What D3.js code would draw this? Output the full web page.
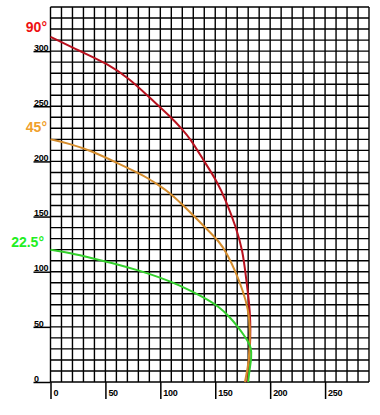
<!DOCTYPE html>
<html>
<head>
<meta charset="utf-8">
<script src="https://cdn.jsdelivr.net/npm/d3@7"></script>
<style>
  body { margin: 0; background: #fff; }
  text { font-family: "Liberation Sans", Arial, sans-serif; }
</style>
</head>
<body>
<div id="chart"></div>
<script>
'use strict';

// trajectories, [x, y]
var red90 = [[0, 313], [29, 299], [51, 289], [72, 275], [90, 258], [111, 239], [120, 229],
  [127, 221], [140, 200], [151, 183], [160, 164], [169, 140], [175, 119], [178, 95],
  [181, 71], [182, 55], [182, 40], [181, 19], [179, 0]];
var orange45 = [[0, 220], [17.5, 216], [36, 210], [60, 199], [81, 189], [90, 184], [99, 178],
  [108, 172], [120, 161], [130, 151], [142, 139], [154, 127], [161, 116], [169, 99],
  [175, 83], [180, 67], [182, 46], [181, 19], [177, 0]];
var green225 = [[0, 120], [17.5, 117], [39, 112], [60, 107], [81, 101], [99, 95], [117, 88],
  [139, 77], [154, 68], [163, 59], [170, 51], [178, 40], [183, 31], [183, 22],
  [181, 10], [180, 0]];

var xTicks = [0, 50, 100, 150, 200, 250];
var yTicks = [0, 50, 100, 150, 200, 250, 300];
var angleLabels = ["90°", "45°", "22.5°"];

var width = 380, height = 415;
var margin = {top: 7, right: 11, bottom: 33, left: 50.5};

var svg = d3.select("#chart")
  .append("svg")
    .attr("width", width)
    .attr("height", height);

var x = d3.scaleLinear()
  .domain([0, 290])
  .range([margin.left, width - margin.right]);

var y = d3.scaleLinear()
  .domain([0, 340])
  .range([height - margin.bottom, margin.top]);

// grid every 10 units
svg.append("g")
  .selectAll("line")
  .data(d3.range(0, 291, 10))
  .enter()
  .append("line")
    .attr("x1", function (d) { return x(d); })
    .attr("x2", function (d) { return x(d); })
    .attr("y1", y(0))
    .attr("y2", y(340))
    .attr("stroke", "#000")
    .attr("stroke-width", 1.4);

svg.append("g")
  .selectAll("line")
  .data(d3.range(0, 341, 10))
  .enter()
  .append("line")
    .attr("x1", x(0))
    .attr("x2", x(290))
    .attr("y1", function (d) { return y(d); })
    .attr("y2", function (d) { return y(d); })
    .attr("stroke", "#000")
    .attr("stroke-width", 1.4);

// x axis: tick drops down, label to the right of it
var xAxis = svg.append("g")
  .attr("transform", "translate(0," + y(0) + ")")
  .call(d3.axisBottom(x).tickValues(xTicks).tickSize(17).tickSizeOuter(0));
xAxis.select(".domain").remove();
xAxis.selectAll(".tick line").attr("stroke", "#000").attr("stroke-width", 1.5);
xAxis.selectAll(".tick text")
  .attr("text-anchor", "start")
  .attr("x", 2.5)
  .attr("y", 8)
  .attr("fill", "#000")
  .style("font-size", "9px")
  .style("font-weight", "bold")
  .style("letter-spacing", "-0.3px");

// y axis: tick runs left under the label
var yAxis = svg.append("g")
  .attr("transform", "translate(" + x(0) + ",0)")
  .call(d3.axisLeft(y).tickValues(yTicks).tickSize(17).tickSizeOuter(0));
yAxis.select(".domain").remove();
yAxis.selectAll(".tick line").attr("stroke", "#000").attr("stroke-width", 1.5);
yAxis.selectAll(".tick text")
  .attr("text-anchor", "start")
  .attr("x", -16.5)
  .attr("dy", 0)
  .attr("y", -0.8)
  .attr("fill", "#000")
  .style("font-size", "9px")
  .style("font-weight", "bold")
  .style("letter-spacing", "-0.3px");

// curves
var line = d3.line()
  .curve(d3.curveBasis)
  .x(function (d) { return x(d[0]); })
  .y(function (d) { return y(d[1]); });

var series = [
  {data: red90, color: "#b8111e"},
  {data: orange45, color: "#d48c2c"},
  {data: green225, color: "#33d02c"}
];

svg.append("g")
  .selectAll("path")
  .data(series)
  .enter()
  .append("path")
    .attr("d", function (d) { return line(d.data); })
    .attr("fill", "none")
    .attr("stroke", function (d) { return d.color; })
    .attr("stroke-width", 2);

// angle labels at the left
var labelPos = [{x: 47, y: 31.5, color: "#ee1111"},
  {x: 47, y: 131.5, color: "#f0a02c"},
  {x: 44, y: 246.5, color: "#22ee22"}];

svg.append("g")
  .selectAll("text")
  .data(angleLabels)
  .enter()
  .append("text")
    .attr("x", function (d, i) { return labelPos[i].x; })
    .attr("y", function (d, i) { return labelPos[i].y; })
    .attr("text-anchor", "end")
    .attr("fill", function (d, i) { return labelPos[i].color; })
    .style("font-size", "14px")
    .style("font-weight", "bold")
    .text(function (d) { return d; });
</script>
</body>
</html>
